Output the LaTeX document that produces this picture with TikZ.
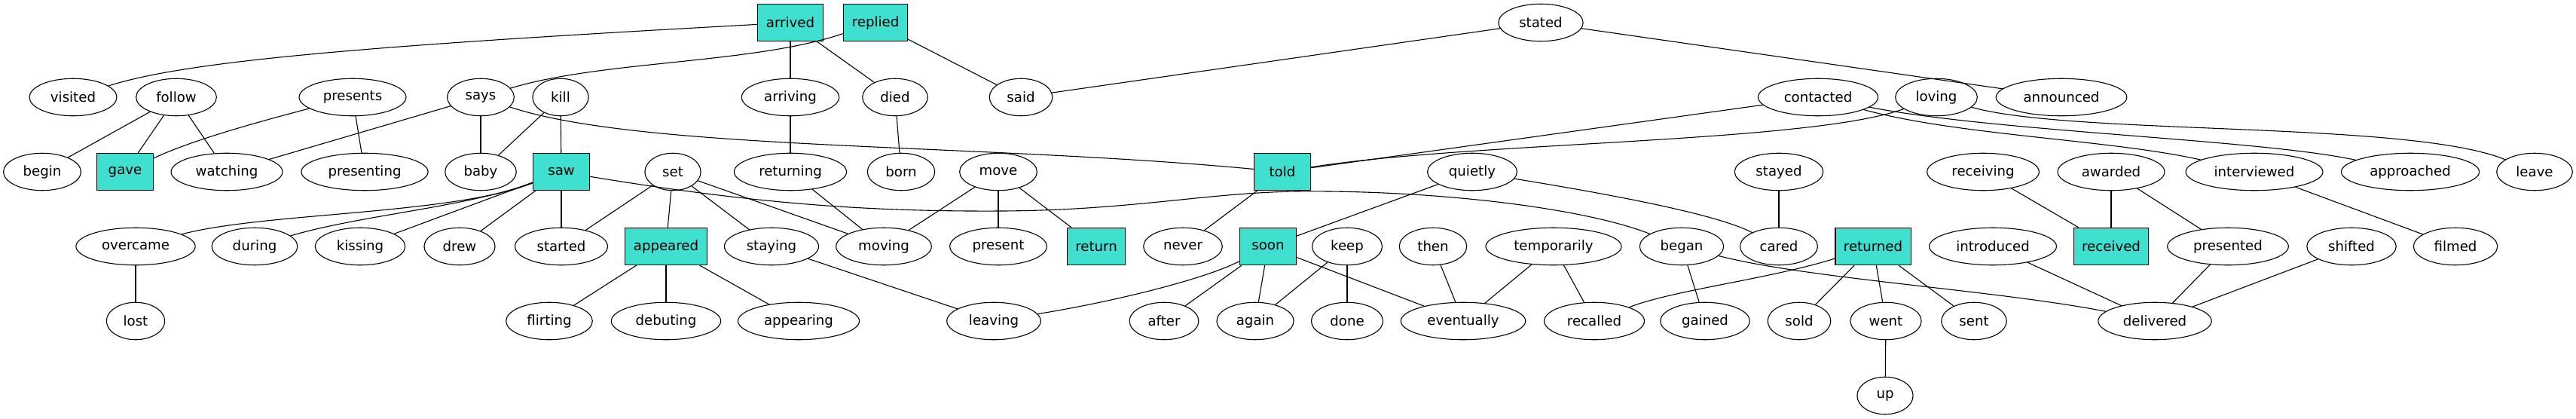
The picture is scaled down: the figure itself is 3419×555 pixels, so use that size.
\documentclass[tikz,border=0pt]{standalone}
\usepackage{fontspec}
\setmainfont{DejaVu Sans}
\usetikzlibrary{shapes.geometric}
\definecolor{turq}{HTML}{40E0D0}
\tikzset{
  lemma/.style={draw, ellipse, inner xsep=8pt, inner ysep=1pt, minimum width=54pt, minimum height=36pt, font=\fontsize{13.2}{15.8}\selectfont},
  headword/.style={draw, rectangle, fill=turq, inner xsep=8pt, minimum width=54pt, minimum height=36pt, font=\fontsize{13.2}{15.8}\selectfont}
}
\begin{document}
\begin{tikzpicture}[x=0.7278pt, y=-0.7278pt, line width=0.8pt, line join=round, line cap=round]
\path[use as bounding box, fill=white] (0,0) rectangle (3419,555);
% boxed words
\foreach \n/\x/\y in {arrived/1049/30, replied/1162/30, gave/166/228, saw/745/228, told/1702/228,
  appeared/884/327, return/1455/327, soon/1683/327, returned/2486/327, received/2802/327}
  {\node[headword] (\n) at (\x,\y) {\n};}
% rows of words
\node[lemma] (stated) at (2045,30) {stated};
\foreach \n/\x in {visited/97, follow/234, presents/468, says/638, kill/744, arriving/1049, died/1188,
  said/1355, contacted/2413, loving/2570, announced/2736}
  {\node[lemma] (\n) at (\x,129) {\n};}
\foreach \n/\x in {begin/56, watching/301, presenting/484, baby/638, set/893, returning/1049, born/1196,
  move/1325, quietly/1954, stayed/2361, receiving/2632, awarded/2802, interviewed/2992, approached/3199, leave/3364}
  {\node[lemma] (\n) at (\x,228) {\n};}
\foreach \n/\x in {overcame/180, during/338, kissing/478, drew/610, started/745, staying/1024, moving/1173,
  present/1325, never/1570, keep/1788, then/1902, temporarily/2062, began/2232, cared/2361,
  introduced/2645, presented/2957, shifted/3121, filmed/3259}
  {\node[lemma] (\n) at (\x,327) {\n};}
\foreach \n/\x in {lost/180, flirting/729, debuting/884, appearing/1060, leaving/1319, after/1545, again/1666,
  done/1788, eventually/1942, recalled/2116, gained/2263, sold/2388, went/2503, sent/2620, delivered/2860}
  {\node[lemma] (\n) at (\x,426) {\n};}
\node[lemma] (up) at (2502,525) {up};
% straight links
\foreach \a/\b in {arrived/arriving, arrived/died, replied/said, stated/said, stated/announced,
  follow/begin, follow/gave, follow/watching, presents/presenting, says/watching, says/baby,
  kill/baby, kill/saw, arriving/returning, died/born, contacted/told,
  saw/kissing, saw/drew, saw/started, set/started, set/appeared, set/staying, set/moving,
  returning/moving, move/moving, move/present, move/return, told/never, quietly/soon,
  stayed/cared, receiving/received, awarded/received, awarded/presented, interviewed/filmed,
  overcame/lost, appeared/flirting, appeared/debuting, appeared/appearing, staying/leaving,
  soon/after, soon/again, soon/eventually, keep/again, keep/done, then/eventually,
  temporarily/eventually, temporarily/recalled, began/gained, returned/sold, returned/went,
  returned/sent, introduced/delivered, presented/delivered, shifted/delivered, went/up}
  {\draw (\a) -- (\b);}
% bent links
\draw (arrived) .. controls (500,60) and (250,80) .. (visited);
\draw (replied) .. controls (1000,85) and (800,80) .. (says);
\draw (says) .. controls (850,200) and (1300,190) .. (told);
\draw (presents) .. controls (330,165) and (250,188) .. (gave);
\draw (saw) .. controls (600,285) and (350,282) .. (overcame);
\draw (saw) .. controls (620,275) and (480,285) .. (during);
\draw (saw) .. controls (1000,270) and (1150,281) .. (1330,280) .. controls (1500,279) and (1600,256) .. (1720,254) .. controls (1900,252) and (2100,275) .. (began);
\draw (loving) .. controls (2400,190) and (1950,188) .. (told);
\draw (contacted) .. controls (2600,180) and (2800,185) .. (interviewed);
\draw (contacted) .. controls (2650,175) and (3000,185) .. (approached);
\draw (loving) .. controls (2750,180) and (3200,160) .. (leave);
\draw (soon) .. controls (1600,370) and (1480,400) .. (leaving);
\draw (returned) .. controls (2350,370) and (2220,385) .. (recalled);
\draw (began) .. controls (2400,370) and (2650,385) .. (delivered);
\draw (quietly) .. controls (2150,260) and (2280,285) .. (cared);
\end{tikzpicture}
\end{document}
